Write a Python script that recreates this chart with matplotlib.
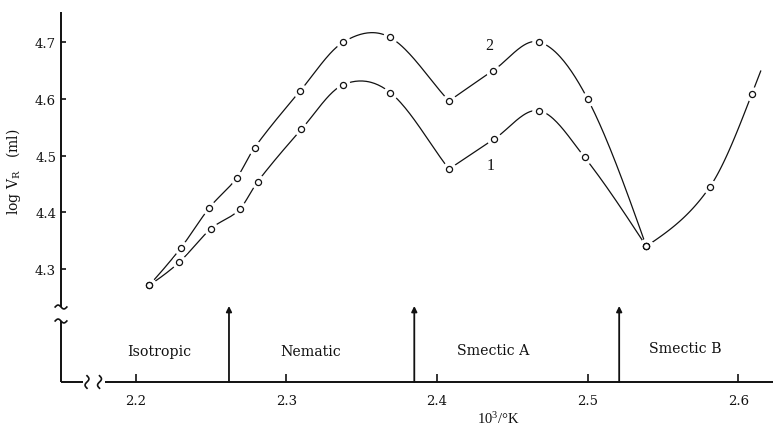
import numpy as np
import matplotlib
matplotlib.use("Agg")
import matplotlib.pyplot as plt
from matplotlib.transforms import Affine2D, ScaledTranslation

# Retention volume (log V_R, ml) against reciprocal temperature (10^3/K)
x_curve2 = [2.209, 2.230, 2.249, 2.267, 2.279, 2.309, 2.338, 2.369, 2.408, 2.437, 2.468, 2.500, 2.539]
y_curve2 = [4.271, 4.337, 4.408, 4.460, 4.514, 4.613, 4.700, 4.708, 4.596, 4.649, 4.700, 4.600, 4.340]
x_curve1 = [2.209, 2.229, 2.250, 2.269, 2.281, 2.310, 2.338, 2.369, 2.408, 2.438, 2.468, 2.498, 2.539]
y_curve1 = [4.271, 4.312, 4.371, 4.405, 4.454, 4.546, 4.625, 4.611, 4.476, 4.529, 4.579, 4.497, 4.340]
x_smectic_b = [2.539, 2.581, 2.609]
y_smectic_b = [4.340, 4.444, 4.608]

# phase transition temperatures (10^3/K)
transitions = [2.262, 2.385, 2.521]
phase_names = ["Isotropic", "Nematic", "Smectic A", "Smectic B"]

x_ticks = [2.2, 2.3, 2.4, 2.5, 2.6]
y_ticks = [4.3, 4.4, 4.5, 4.6, 4.7]

# ---- layout -------------------------------------------------------------
phase_label_x = [2.2158, 2.3160, 2.4371, 2.5649]
phase_label_y = [0.073, 0.073, 0.076, 0.081]
arrow_top = 0.2054
spine_break_hi = 0.2027
spine_break_lo = 0.1649
base_break = (0.0309, 0.0618)
base_wiggles = (0.0365, 0.0541)
INK = "#111111"
FONT = "DejaVu Serif"


def smooth_curve(xs, ys, corners=(), n=40, tail=0.0):
    """Piecewise cubic Hermite curve through the points; 'corners' get one-sided slopes."""
    x = np.asarray(xs, float)
    y = np.asarray(ys, float)
    s = np.diff(y) / np.diff(x)
    k = len(x)
    m_in = np.zeros(k)
    m_out = np.zeros(k)
    for i in range(1, k - 1):
        m = (y[i + 1] - y[i - 1]) / (x[i + 1] - x[i - 1])
        m_in[i] = m_out[i] = m
    for i in corners:
        m_in[i] = s[i - 1]
        m_out[i] = s[i]
    m_out[0] = (3 * s[0] - m_in[1]) / 2 if k > 2 else s[0]
    m_in[-1] = (3 * s[-1] - m_out[-2]) / 2 if k > 2 else s[-1]
    t = np.linspace(0, 1, n)
    h00 = 2 * t**3 - 3 * t**2 + 1
    h10 = t**3 - 2 * t**2 + t
    h01 = -2 * t**3 + 3 * t**2
    h11 = t**3 - t**2
    X, Y = [], []
    for i in range(k - 1):
        h = x[i + 1] - x[i]
        X.append(x[i] + h * t)
        Y.append(h00 * y[i] + h10 * h * m_out[i] + h01 * y[i + 1] + h11 * h * m_in[i + 1])
    X = np.concatenate(X)
    Y = np.concatenate(Y)
    if tail:
        X = np.append(X, x[-1] + tail)
        Y = np.append(Y, y[-1] + m_in[-1] * tail)
    return X, Y


plt.rcParams["mathtext.fontset"] = "dejavuserif"

fig = plt.figure(figsize=(7.73, 4.27), dpi=100)
ax = fig.add_axes([61 / 773, 44 / 427, 712 / 773, 370 / 427])
ax.set_xlim(2.1505, 2.6231)
ax.set_ylim(4.1009, 4.7529)
for sp in ax.spines.values():
    sp.set_visible(False)

# curves
for xs, ys, corners, tail in [(x_curve2, y_curve2, (8,), 0.0),
                              (x_curve1, y_curve1, (8,), 0.0),
                              (x_smectic_b, y_smectic_b, (), 0.006)]:
    cx, cy = smooth_curve(xs, ys, corners, tail=tail)
    ax.plot(cx, cy, color=INK, lw=0.9, zorder=2, solid_capstyle="round")

# open circles with a white margin around them
all_x = x_curve2 + x_curve1 + x_smectic_b
all_y = y_curve2 + y_curve1 + y_smectic_b
ax.plot(all_x, all_y, ls="none", marker="o", ms=10.5, mfc="white", mec="none", zorder=3)
ax.plot(all_x, all_y, ls="none", marker="o", ms=4.4, mfc="white", mec=INK, mew=0.9, zorder=4)

# curve numbers
ax.text(2.435, 4.695, "2", ha="center", va="center", fontsize=11.5,
        family="Liberation Serif", color=INK)
ax.text(2.4356, 4.484, "1", ha="center", va="center", fontsize=11.5,
        family="Liberation Serif", color=INK)

# phase transition arrows
for xt in transitions:
    ax.annotate("", xy=(xt, arrow_top), xytext=(xt, 0.0),
                xycoords=("data", "axes fraction"), textcoords=("data", "axes fraction"),
                arrowprops=dict(arrowstyle="-|>", mutation_scale=8, lw=1.3,
                                color=INK, shrinkA=0, shrinkB=0),
                annotation_clip=False)

for name, px, py in zip(phase_names, phase_label_x, phase_label_y):
    ax.text(px, py, name, transform=ax.get_xaxis_transform(), ha="center",
            va="baseline", fontsize=10.2, family=FONT, color=INK)

# axis lines with breaks
lw_axis = 1.4
ta = ax.transAxes
for xs_, ys_ in [([0, 0], [1, spine_break_hi]),
                 ([0, 0], [spine_break_lo, 0]),
                 ([0, base_break[0]], [0, 0]),
                 ([base_break[1], 1], [0, 0])]:
    ax.plot(xs_, ys_, transform=ta, color=INK, lw=lw_axis, clip_on=False,
            solid_capstyle="butt")

pt = fig.dpi / 72.0
u = np.linspace(-1, 1, 30)


# break marks; offsets are in points, converted through the figure dpi
def wiggle_pts(ax_x, ax_y, horizontal=True):
    tr = Affine2D().scale(pt) + ScaledTranslation(ax_x, ax_y, ta)
    if horizontal:
        px = u * 4.2
        py = -1.4 * np.sin(np.pi * u)
    else:
        py = u * 4.5
        px = 1.4 * np.sin(np.pi * u)
    ax.plot(px, py, transform=tr, color=INK, lw=1.2, clip_on=False)


wiggle_pts(0, spine_break_hi, True)
wiggle_pts(0, spine_break_lo, True)
for bx in base_wiggles:
    wiggle_pts(bx, 0, False)

# ticks
ax.set_xticks(x_ticks)
ax.set_xticklabels([f"{v:.1f}" for v in x_ticks])
ax.set_yticks(y_ticks)
ax.set_yticklabels([f"{v:.1f}" for v in y_ticks])
ax.tick_params(axis="x", direction="in", length=6, width=1.2, pad=9, labelsize=9.5,
               colors=INK)
ax.tick_params(axis="y", direction="in", length=3.5, width=1.2, pad=3.5, labelsize=9.5,
               colors=INK)
for lab in ax.get_xticklabels() + ax.get_yticklabels():
    lab.set_family(FONT)

ax.set_xlabel(r"10$^{\mathregular{3}}$/°K", fontsize=10.5, family="Liberation Serif", color=INK)
ax.xaxis.set_label_coords(0.6138, -0.074)
ax.set_ylabel(r"log V$_{\mathregular{R}}$   (ml)", fontsize=10, family=FONT, color=INK)
ax.yaxis.set_label_coords(-0.0533, 0.5716)

fig.savefig("out.png", dpi=100)
